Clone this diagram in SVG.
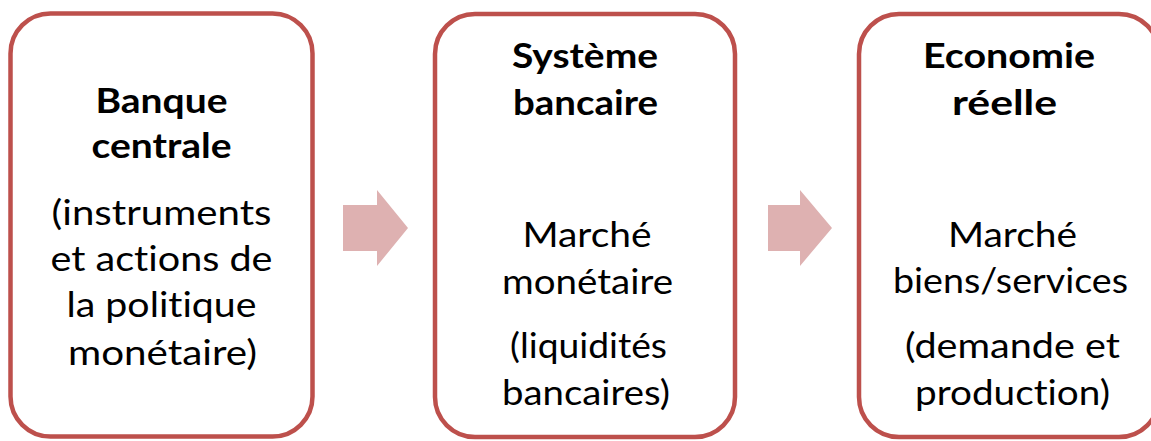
<svg xmlns="http://www.w3.org/2000/svg" width="1151" height="441" viewBox="0 0 1151 441">
<style>
.box{fill:#ffffff;stroke:#bd504c;stroke-width:4.5}
.arrow{fill:#deb1b1}
text{font-family:Lato,"Open Sans","Liberation Sans",sans-serif;font-size:35px;fill:#000;text-anchor:middle;font-variant-ligatures:none;font-feature-settings:"liga" 0,"clig" 0}
.b{font-weight:bold}
</style>
<rect width="1151" height="441" fill="#ffffff"/>
<g id="connectors">
<polygon class="arrow" points="343,205 377,205 377,190 408,228 377,266 377,251 343,251"/>
<polygon class="arrow" points="768,205 800,205 800,190 832,228 800,266 800,251 768,251"/>
</g>
<g id="node-banque">
<rect class="box" x="10.5" y="13.5" width="302" height="423" rx="40"/>
<text class="b" x="161.5" y="113" textLength="132" lengthAdjust="spacingAndGlyphs">Banque</text>
<text class="b" x="161.5" y="158" textLength="140" lengthAdjust="spacingAndGlyphs">centrale</text>
<text x="161.5" y="225" textLength="220" lengthAdjust="spacingAndGlyphs">(instruments</text>
<text x="161.5" y="271" textLength="222" lengthAdjust="spacingAndGlyphs">et actions de</text>
<text x="161.5" y="317" textLength="190" lengthAdjust="spacingAndGlyphs">la politique</text>
<text x="162.5" y="365" textLength="189" lengthAdjust="spacingAndGlyphs">monétaire)</text>
</g>
<g id="node-systeme">
<rect class="box" x="435" y="14" width="300" height="423" rx="40"/>
<text class="b" x="585" y="68" textLength="146" lengthAdjust="spacingAndGlyphs">Système</text>
<text class="b" x="585.5" y="115" textLength="145" lengthAdjust="spacingAndGlyphs">bancaire</text>
<text x="587" y="247" textLength="129" lengthAdjust="spacingAndGlyphs">Marché</text>
<text x="587.5" y="294" textLength="171" lengthAdjust="spacingAndGlyphs">monétaire</text>
<text x="588.5" y="358" textLength="157" lengthAdjust="spacingAndGlyphs">(liquidités</text>
<text x="586" y="405" textLength="168" lengthAdjust="spacingAndGlyphs">bancaires)</text>
</g>
<g id="node-economie">
<rect class="box" x="859" y="14" width="300" height="423" rx="40"/>
<text class="b" x="1009" y="68" textLength="172" lengthAdjust="spacingAndGlyphs">Economie</text>
<text class="b" x="1004.5" y="115" textLength="105" lengthAdjust="spacingAndGlyphs">réelle</text>
<text x="1012.5" y="247" textLength="129" lengthAdjust="spacingAndGlyphs">Marché</text>
<text x="1010.5" y="293" textLength="235" lengthAdjust="spacingAndGlyphs">biens/services</text>
<text x="1012.5" y="358" textLength="215" lengthAdjust="spacingAndGlyphs">(demande et</text>
<text x="1012.5" y="405" textLength="195" lengthAdjust="spacingAndGlyphs">production)</text>
</g>
</svg>
